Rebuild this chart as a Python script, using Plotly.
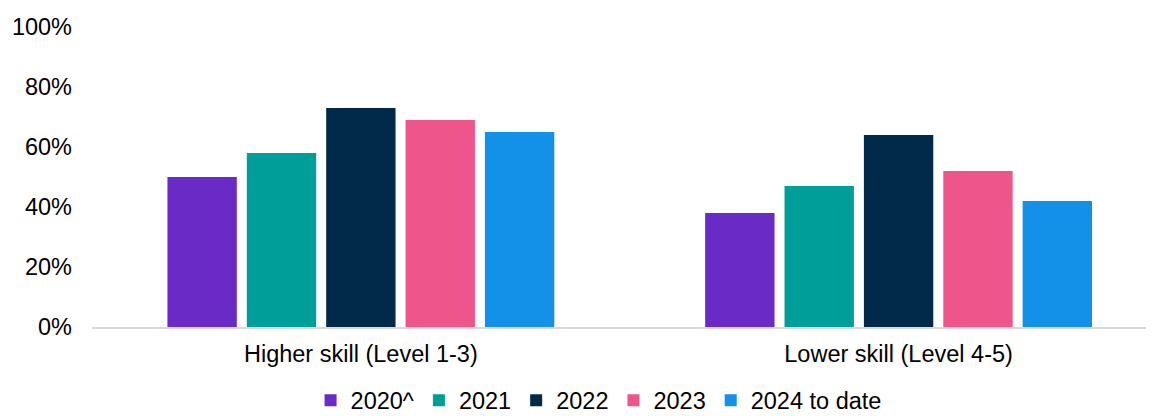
import plotly.graph_objects as go

categories = ["Higher skill (Level 1-3)", "Lower skill (Level 4-5)"]
series_names = ["2020^", "2021", "2022", "2023", "2024 to date"]
values_2020 = [50, 38]
values_2021 = [58, 47]
values_2022 = [73, 64]
values_2023 = [69, 52]
values_2024 = [65, 42]
series_values = [values_2020, values_2021, values_2022, values_2023, values_2024]
colors = ["#6A2AC5", "#009E98", "#012A4A", "#EE558B", "#1391E8"]
y_ticks = [0, 20, 40, 60, 80, 100]
y_tick_labels = [f"{v}%" for v in y_ticks]

FONT = "Liberation Sans, Arial, sans-serif"
FS = 23.5

fig = go.Figure()
for name, vals, col in zip(series_names, series_values, colors):
    fig.add_trace(go.Bar(name=name, x=categories, y=vals, marker_color=col,
                         marker_line_width=0, hoverinfo="skip"))

# page body has an 8px default margin, so the figure is 8px smaller in each direction
fig.update_layout(
    width=1146, height=408,
    margin=dict(l=84, r=0, t=19, b=89, autoexpand=False),
    paper_bgcolor="white", plot_bgcolor="white",
    barmode="group", bargap=0.262, bargroupgap=0.126,
    font=dict(family=FONT, size=FS, color="#000000"),
    showlegend=True,
    legend=dict(orientation="h", x=0.477, xanchor="center", y=-0.245, yanchor="middle",
                font=dict(family=FONT, size=FS, color="#000000"),
                bgcolor="rgba(0,0,0,0)", traceorder="normal"),
)
fig.update_xaxes(range=[-0.5, 1.475], showgrid=False, showline=True, linecolor="#D9D9D9",
                 linewidth=2, ticks="", ticklabelstandoff=5, zeroline=False, automargin=False,
                 tickfont=dict(family=FONT, size=FS, color="#000000"))
fig.update_yaxes(range=[0, 100], tickmode="array", tickvals=y_ticks, ticktext=y_tick_labels,
                 showgrid=False, showline=False, zeroline=False, ticks="", ticklabelstandoff=19,
                 automargin=False,
                 tickfont=dict(family=FONT, size=FS, color="#000000"))

fig.write_html("out.html")
